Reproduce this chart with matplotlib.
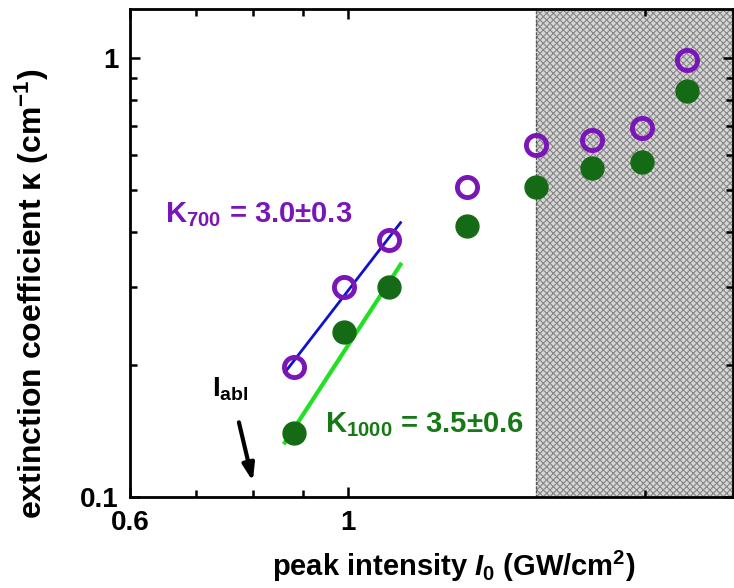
import matplotlib
matplotlib.use("Agg")
import matplotlib.pyplot as plt
from matplotlib.ticker import FixedLocator, NullFormatter, FixedFormatter

plt.rcParams["font.family"] = ["Liberation Sans", "DejaVu Sans"]
plt.rcParams["font.weight"] = "bold"
plt.rcParams["mathtext.fontset"] = "custom"
plt.rcParams["mathtext.rm"] = "Liberation Sans:bold"
plt.rcParams["mathtext.it"] = "Liberation Sans:italic:bold"
plt.rcParams["mathtext.bf"] = "Liberation Sans:bold"
plt.rcParams["hatch.linewidth"] = 0.8

# data
intensity = [0.88, 0.99, 1.10, 1.32, 1.55, 1.77, 1.99, 2.21]
kappa_700 = [0.198, 0.300, 0.385, 0.508, 0.632, 0.651, 0.690, 0.990]
kappa_1000 = [0.140, 0.237, 0.301, 0.414, 0.508, 0.562, 0.580, 0.838]

fit_x = [0.862, 1.13]
fit_700 = [0.192, 0.421]
fit_1000 = [0.133, 0.338]

shade_start = 1.55
x_lim = (0.6, 2.46)
y_lim = (0.1, 1.29)

fig = plt.figure(figsize=(7.34, 5.88), dpi=100)
ax = fig.add_axes([130 / 734, 91 / 588, 603 / 734, 488 / 588])
ax.set_xscale("log")
ax.set_yscale("log")
ax.set_xlim(x_lim)
ax.set_ylim(y_lim)

# ablation region
ax.axvspan(shade_start, x_lim[1], facecolor="#d6d6d6", edgecolor="#868686",
           hatch="xxxxx", lw=0, zorder=0)
ax.axvline(shade_start, color="#555555", lw=1, ls=(0, (2, 1)), zorder=1)

ax.plot(fit_x, fit_700, color="#1010d0", lw=2, zorder=3)
ax.plot(fit_x, fit_1000, color="#22e022", lw=3, zorder=3)

ax.plot(intensity, kappa_1000, "o", ms=16.5, color="#156b15", mec="#156b15", zorder=4)
ax.plot(intensity, kappa_700, "o", ms=14.5, mfc="none", mec="#7a16b8", mew=3.5, zorder=5)

ax.text(0.651, 0.439, "K$_{700}$ = 3.0±0.3", color="#7a16b8", fontsize=21,
        fontweight="bold", va="center")
ax.text(0.948, 0.146, "K$_{1000}$ = 3.5±0.6", color="#157a15", fontsize=21,
        fontweight="bold", va="center")

ax.annotate("", xy=(0.801, 0.107), xytext=(0.773, 0.150),
            arrowprops=dict(arrowstyle="-|>,head_length=1.0,head_width=0.35",
                            color="black", lw=3))
ax.text(0.727, 0.169, "I$_{\\mathrm{abl}}$", fontsize=20, ha="left", va="baseline")

ax.xaxis.set_major_locator(FixedLocator([0.6, 1]))
ax.xaxis.set_major_formatter(FixedFormatter(["0.6", "1"]))
ax.xaxis.set_minor_locator(FixedLocator([0.7, 0.8, 0.9, 2]))
ax.xaxis.set_minor_formatter(NullFormatter())
ax.yaxis.set_major_locator(FixedLocator([0.1, 1]))
ax.yaxis.set_major_formatter(FixedFormatter(["0.1", "1"]))
ax.yaxis.set_minor_locator(FixedLocator([0.2, 0.3, 0.4, 0.5, 0.6, 0.7, 0.8, 0.9]))
ax.yaxis.set_minor_formatter(NullFormatter())

ax.tick_params(which="both", direction="in", top=True, right=True, width=1.8)
ax.tick_params(which="major", length=7, labelsize=20)
ax.tick_params(axis="x", which="major", pad=9)
ax.tick_params(axis="y", which="major", pad=8)
ax.tick_params(which="minor", length=5)
for s in ax.spines.values():
    s.set_linewidth(2)

ax.set_xlabel("peak intensity $I_0$ (GW/cm$^2$)", fontsize=21, fontweight="bold")
ax.set_ylabel("extinction coefficient κ (cm$^{-1}$)", fontsize=23, fontweight="bold")
ax.xaxis.label.set_va("center")
ax.yaxis.label.set_va("center")
ax.xaxis.set_label_coords(0.537, -0.142)
ax.yaxis.set_label_coords(-0.163, 0.417)

fig.savefig("out.png", dpi=100)
